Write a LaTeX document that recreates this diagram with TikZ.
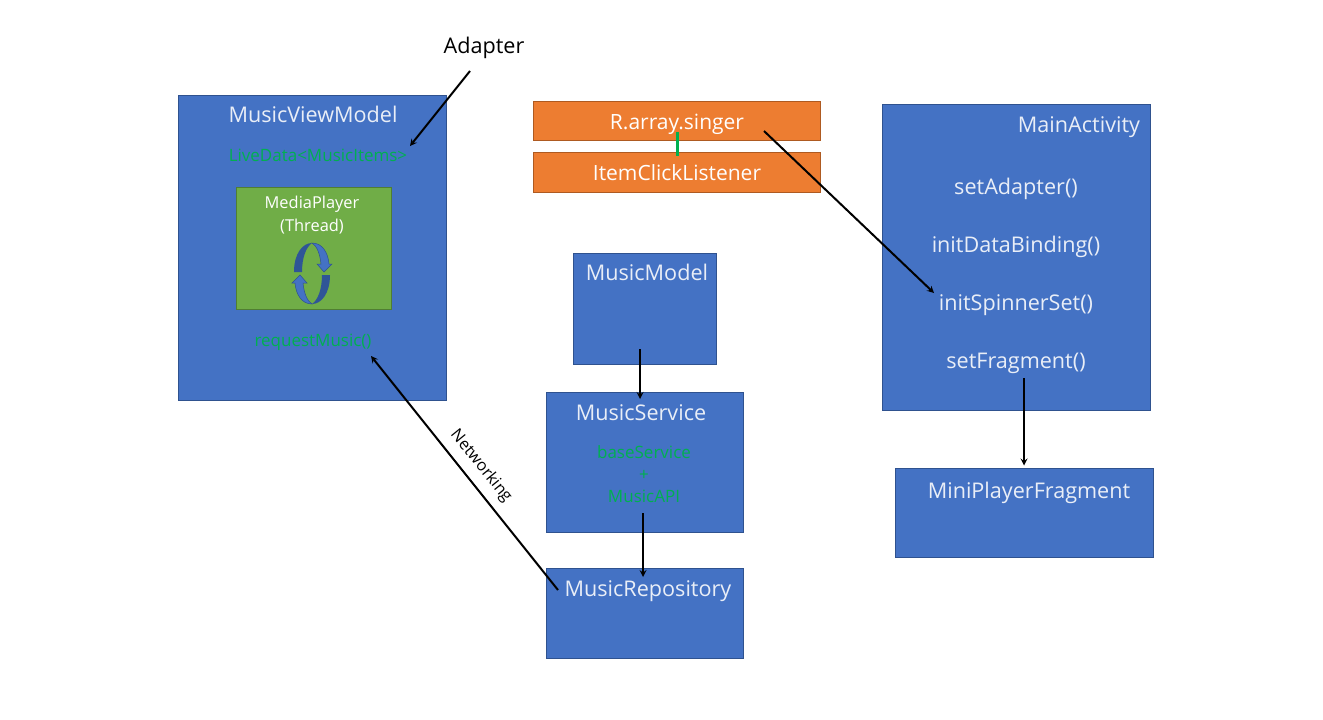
\documentclass[tikz,border=0pt]{standalone}
\usepackage{fontspec}
\setmainfont{Open Sans}
\usetikzlibrary{arrows}
\definecolor{boxblue}{HTML}{4472C4}
\definecolor{boxline}{HTML}{2F528F}
\definecolor{boxorange}{HTML}{ED7D31}
\definecolor{orangeline}{HTML}{AE5A21}
\definecolor{boxgreen}{HTML}{70AD47}
\definecolor{greenline}{HTML}{507E32}
\definecolor{textgreen}{HTML}{00B050}
\definecolor{textpale}{HTML}{E9EEF7}
\definecolor{loopdark}{HTML}{2F5597}
\tikzstyle{classbox} = [rectangle, inner sep=0pt, outer sep=0pt, draw=boxline, fill=boxblue]
\tikzstyle{listbox} = [rectangle, inner sep=0pt, outer sep=0pt, draw=orangeline, fill=boxorange, text=white, text height=16pt, text depth=0pt, font=\fontsize{21}{25}\selectfont]
\tikzstyle{threadbox} = [rectangle, inner sep=0pt, outer sep=0pt, draw=greenline, fill=boxgreen]
\tikzstyle{title} = [inner sep=0pt, text=textpale, text height=16pt, text depth=0pt, font=\fontsize{21.6}{26}\selectfont]
\tikzstyle{member} = [inner sep=0pt, text=textgreen, text height=13pt, text depth=0pt, font=\fontsize{17}{20}\selectfont]
\tikzstyle{threadtext} = [inner sep=0pt, text=white, text height=12.5pt, text depth=0pt, font=\fontsize{16.4}{20}\selectfont]
\tikzstyle{plain} = [inner sep=0pt, text=black, text height=16pt, text depth=0pt, font=\fontsize{21.6}{26}\selectfont]
\tikzstyle{arrow} = [line width=2pt,->,>=stealth]
\begin{document}
\begin{tikzpicture}[x=1pt, y=-1pt, node distance=58pt]
    \useasboundingbox (0,0) rectangle (1323,720);
    %boxes
    \node (viewmodelbox) [classbox, minimum width=268pt, minimum height=305pt] at (312.5,248) {};
    \node (playerbox) [threadbox, minimum width=155pt, minimum height=122pt] at (313.5,248) {};
    \node (singerbox) [listbox, minimum width=287pt, minimum height=39pt] at (677,121) {R.array.singer};
    \node (clickbox) [listbox, minimum width=287pt, minimum height=40pt] at (677,172.5) {ItemClickListener};
    \node (modelbox) [classbox, minimum width=143pt, minimum height=111pt] at (644.5,308.5) {};
    \node (servicebox) [classbox, minimum width=197pt, minimum height=140pt] at (644.5,462) {};
    \node (repositorybox) [classbox, minimum width=197pt, minimum height=90pt] at (644.5,613) {};
    \node (activitybox) [classbox, minimum width=268pt, minimum height=306pt] at (1016,257) {};
    \node (fragmentbox) [classbox, minimum width=258pt, minimum height=89pt] at (1024,512.5) {};

    %texts
    \node (adapter) [plain] at (484,45) {Adapter};
    \node (viewmodel) [title] at (313,114) {MusicViewModel};
    \node (livedata) [member] at (318,155) {LiveData<MusicItems>};
    \node (player) [threadtext] at (312,202) {MediaPlayer};
    \node (thread) [threadtext, below of=player, node distance=23pt] {(Thread)};
    \node (request) [member] at (313,340) {requestMusic()};
    \node (model) [title] at (647,272.5) {MusicModel};
    \node (service) [title] at (641,412) {MusicService};
    \node (base) [member] at (644,452) {baseService};
    \node (plus) [member, below of=base, node distance=22pt] {+};
    \node (api) [member, below of=plus, node distance=22pt] {MusicAPI};
    \node (repository) [title] at (648,588) {MusicRepository};
    \node (activity) [title] at (1079,124) {MainActivity};
    \node (setadapter) [title] at (1016,186) {setAdapter()};
    \node (binding) [title, below of=setadapter] {initDataBinding()};
    \node (spinner) [title, below of=binding] {initSpinnerSet()};
    \node (setfragment) [title, below of=spinner] {setFragment()};
    \node (fragment) [title] at (1029,490) {MiniPlayerFragment};
    \node (networking) [inner sep=0pt, text=black, font=\fontsize{16.2}{20}\selectfont, rotate=-51] at (481,466) {Networking};

    %loop icon
    \foreach \turn in {0,180} {
        \begin{scope}[rotate around={\turn:(312,273.5)}]
            \fill [loopdark] (294,272) .. controls (294,253) and (303,243) .. (312,243) .. controls (306,247) and (302,258) .. (302,272) -- cycle;
            \fill [boxblue, draw=boxline, line width=0.5pt] (312,243) .. controls (322,243) and (328,252) .. (329,264) -- (332,264) -- (324,272) -- (317,264) -- (321,264) .. controls (320,254) and (317,246) .. (312,243) -- cycle;
        \end{scope}
    }

    %arrows
    \draw [arrow] ([xshift=-14pt,yshift=-26pt]adapter.center) -- ([xshift=92pt,yshift=9pt]livedata.center);
    \draw [line width=3pt, textgreen] ([xshift=0.5pt,yshift=-11pt]singerbox.center) -- ([xshift=0.5pt,yshift=16.5pt]clickbox.center);
    \draw [arrow] ([xshift=87pt,yshift=-10pt]singerbox.center) -- ([xshift=-82pt,yshift=9pt]spinner.center);
    \draw [arrow] ([xshift=-4.5pt,yshift=-40.5pt]modelbox.center) -- ([xshift=-4.5pt,yshift=63pt]servicebox.center);
    \draw [arrow] ([xshift=-1.5pt,yshift=-51pt]servicebox.center) -- ([xshift=-1.5pt,yshift=36pt]repositorybox.center);
    \draw [arrow] ([xshift=8pt,yshift=-121pt]activitybox.center) -- ([xshift=0pt,yshift=47pt]fragmentbox.center);
    \draw [arrow] ([xshift=-90pt,yshift=-2pt]repository.center) -- ([xshift=58pt,yshift=-16pt]request.center);
\end{tikzpicture}
\end{document}
